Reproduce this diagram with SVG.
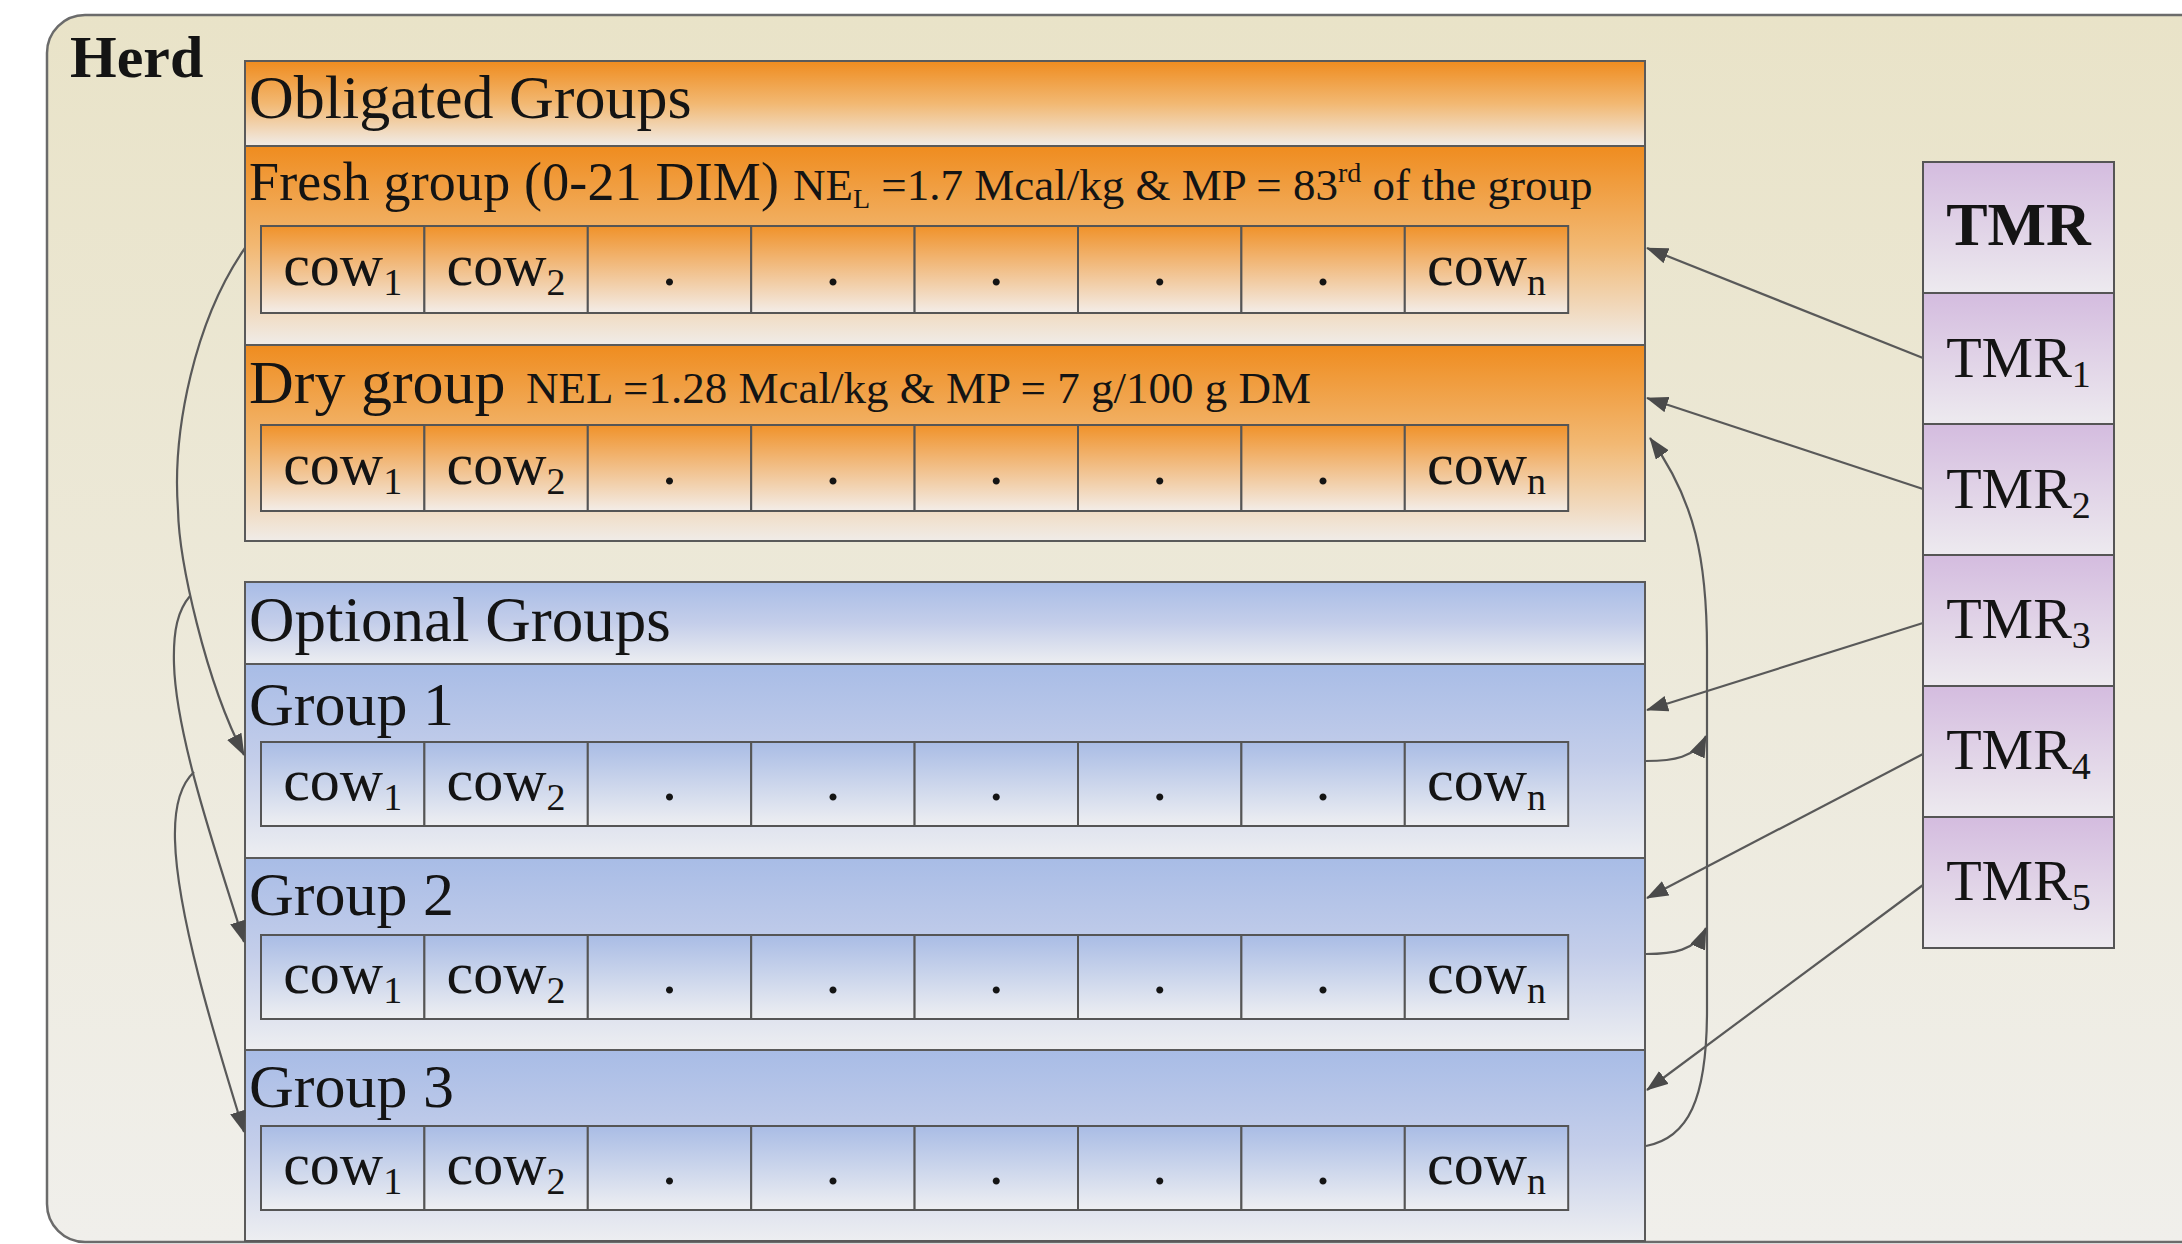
<svg xmlns="http://www.w3.org/2000/svg" width="2182" height="1244" viewBox="0 0 2182 1244">
  <defs>
    <linearGradient id="gHerd" x1="0" y1="0" x2="0" y2="1">
      <stop offset="0" stop-color="#E9E3C8"/>
      <stop offset="1" stop-color="#F0EFEB"/>
    </linearGradient>
    <linearGradient id="gOrange" x1="0" y1="0" x2="0" y2="1">
      <stop offset="0" stop-color="#EF8C1F"/>
      <stop offset="0.5" stop-color="#F2B872"/>
      <stop offset="1" stop-color="#F0ECE8"/>
    </linearGradient>
    <linearGradient id="gOrangeCell" x1="0" y1="0" x2="0" y2="1">
      <stop offset="0" stop-color="#F0922A"/>
      <stop offset="1" stop-color="#F3EDE8"/>
    </linearGradient>
    <linearGradient id="gBlue" x1="0" y1="0" x2="0" y2="1">
      <stop offset="0" stop-color="#A8BCE6"/>
      <stop offset="0.5" stop-color="#C4CEEA"/>
      <stop offset="1" stop-color="#EDEEF1"/>
    </linearGradient>
    <linearGradient id="gBlueCell" x1="0" y1="0" x2="0" y2="1">
      <stop offset="0" stop-color="#A9BCE5"/>
      <stop offset="1" stop-color="#EEEFF2"/>
    </linearGradient>
    <linearGradient id="gPurple" x1="0" y1="0" x2="0" y2="1">
      <stop offset="0" stop-color="#D4BCDF"/>
      <stop offset="1" stop-color="#EDEAEF"/>
    </linearGradient>
    <marker id="arrow" viewBox="0 0 22 16" refX="21" refY="8" markerWidth="22" markerHeight="16" markerUnits="userSpaceOnUse" orient="auto">
      <path d="M0,0 L22,8 L0,16 z" fill="#4A4A4A"/>
    </marker>
  </defs>
  <style>
    .box{stroke:#5A5A5A;stroke-width:2}
    .org{fill:url(#gOrange)}
    .blu{fill:url(#gBlue)}
    .oc{fill:url(#gOrangeCell);stroke:#555;stroke-width:2}
    .bc{fill:url(#gBlueCell);stroke:#555;stroke-width:2}
    .tmr{fill:url(#gPurple);stroke:#555;stroke-width:2}
    .t{font-family:"Liberation Serif","Times New Roman",serif;fill:#141414}
    .lab{font-size:62px}
    .small{font-size:45px}
    .cow{font-size:60px;text-anchor:middle}
    .tm{font-size:58px;text-anchor:middle}
    .sub{font-size:38px}
    .sub2{font-size:28px}
    .conn{fill:none;stroke:#595959;stroke-width:2.2;marker-end:url(#arrow)}
  </style>

  <rect width="2182" height="1244" fill="#FFFFFF"/>

  <!-- outer herd container -->
  <g id="herd">
    <rect x="47" y="15" width="2200" height="1227" rx="38" fill="url(#gHerd)" stroke="#6B6B6B" stroke-width="2.5"/>
    <text class="t" x="70" y="77" font-size="60" font-weight="bold">Herd</text>
  </g>

  <!-- obligated groups -->
  <g id="obligated-groups">
    <rect class="box" x="245" y="61" width="1400" height="480" fill="none"/>
    <rect class="box org" x="245" y="61" width="1400" height="85"/>
    <text class="t lab" x="249" y="118" font-size="63">Obligated Groups</text>
  </g>

  <g id="fresh-group">
    <rect class="box org" x="245" y="146" width="1400" height="199"/>
    <text class="t" y="200"><tspan x="249" font-size="54" textLength="530">Fresh group (0-21 DIM)</tspan><tspan x="793" class="small">NE<tspan class="sub2" dy="8">L</tspan><tspan dy="-8"> =1.7 Mcal/kg &amp; MP = 83</tspan><tspan class="sub2" dy="-18">rd</tspan><tspan dy="18"> of the group</tspan></tspan></text>
    <g id="fresh-cows">
      <rect class="oc" x="261" y="226" width="163.4" height="87"/>
      <rect class="oc" x="424.4" y="226" width="163.4" height="87"/>
      <rect class="oc" x="587.8" y="226" width="163.4" height="87"/>
      <rect class="oc" x="751.2" y="226" width="163.4" height="87"/>
      <rect class="oc" x="914.6" y="226" width="163.4" height="87"/>
      <rect class="oc" x="1078" y="226" width="163.4" height="87"/>
      <rect class="oc" x="1241.4" y="226" width="163.4" height="87"/>
      <rect class="oc" x="1404.8" y="226" width="163.4" height="87"/>
      <text class="t cow" x="342.7" y="285">cow<tspan class="sub" dy="10">1</tspan></text>
      <text class="t cow" x="506.1" y="285">cow<tspan class="sub" dy="10">2</tspan></text>
      <text class="t cow" x="669.5" y="285">.</text>
      <text class="t cow" x="832.9" y="285">.</text>
      <text class="t cow" x="996.3" y="285">.</text>
      <text class="t cow" x="1159.7" y="285">.</text>
      <text class="t cow" x="1323.1" y="285">.</text>
      <text class="t cow" x="1486.5" y="285">cow<tspan class="sub" dy="10">n</tspan></text>
    </g>
  </g>

  <g id="dry-group">
    <rect class="box org" x="245" y="345" width="1400" height="196"/>
    <text class="t" y="403"><tspan x="249" font-size="62">Dry group</tspan><tspan x="526" class="small">NEL =1.28 Mcal/kg &amp; MP = 7 g/100 g DM</tspan></text>
    <g id="dry-cows">
      <rect class="oc" x="261" y="425" width="163.4" height="86"/>
      <rect class="oc" x="424.4" y="425" width="163.4" height="86"/>
      <rect class="oc" x="587.8" y="425" width="163.4" height="86"/>
      <rect class="oc" x="751.2" y="425" width="163.4" height="86"/>
      <rect class="oc" x="914.6" y="425" width="163.4" height="86"/>
      <rect class="oc" x="1078" y="425" width="163.4" height="86"/>
      <rect class="oc" x="1241.4" y="425" width="163.4" height="86"/>
      <rect class="oc" x="1404.8" y="425" width="163.4" height="86"/>
      <text class="t cow" x="342.7" y="484">cow<tspan class="sub" dy="10">1</tspan></text>
      <text class="t cow" x="506.1" y="484">cow<tspan class="sub" dy="10">2</tspan></text>
      <text class="t cow" x="669.5" y="484">.</text>
      <text class="t cow" x="832.9" y="484">.</text>
      <text class="t cow" x="996.3" y="484">.</text>
      <text class="t cow" x="1159.7" y="484">.</text>
      <text class="t cow" x="1323.1" y="484">.</text>
      <text class="t cow" x="1486.5" y="484">cow<tspan class="sub" dy="10">n</tspan></text>
    </g>
  </g>

  <!-- optional groups -->
  <g id="optional-groups">
    <rect class="box" x="245" y="582" width="1400" height="659" fill="none"/>
    <rect class="box blu" x="245" y="582" width="1400" height="82"/>
    <text class="t" x="249" y="641" font-size="63">Optional Groups</text>
  </g>

  <g id="group-1">
    <rect class="box blu" x="245" y="664" width="1400" height="194"/>
    <text class="t lab" x="249" y="725">Group 1</text>
    <g id="group-1-cows">
      <rect class="bc" x="261" y="742" width="163.4" height="84"/>
      <rect class="bc" x="424.4" y="742" width="163.4" height="84"/>
      <rect class="bc" x="587.8" y="742" width="163.4" height="84"/>
      <rect class="bc" x="751.2" y="742" width="163.4" height="84"/>
      <rect class="bc" x="914.6" y="742" width="163.4" height="84"/>
      <rect class="bc" x="1078" y="742" width="163.4" height="84"/>
      <rect class="bc" x="1241.4" y="742" width="163.4" height="84"/>
      <rect class="bc" x="1404.8" y="742" width="163.4" height="84"/>
      <text class="t cow" x="342.7" y="800">cow<tspan class="sub" dy="10">1</tspan></text>
      <text class="t cow" x="506.1" y="800">cow<tspan class="sub" dy="10">2</tspan></text>
      <text class="t cow" x="669.5" y="800">.</text>
      <text class="t cow" x="832.9" y="800">.</text>
      <text class="t cow" x="996.3" y="800">.</text>
      <text class="t cow" x="1159.7" y="800">.</text>
      <text class="t cow" x="1323.1" y="800">.</text>
      <text class="t cow" x="1486.5" y="800">cow<tspan class="sub" dy="10">n</tspan></text>
    </g>
  </g>

  <g id="group-2">
    <rect class="box blu" x="245" y="858" width="1400" height="192"/>
    <text class="t lab" x="249" y="915">Group 2</text>
    <g id="group-2-cows">
      <rect class="bc" x="261" y="935" width="163.4" height="84"/>
      <rect class="bc" x="424.4" y="935" width="163.4" height="84"/>
      <rect class="bc" x="587.8" y="935" width="163.4" height="84"/>
      <rect class="bc" x="751.2" y="935" width="163.4" height="84"/>
      <rect class="bc" x="914.6" y="935" width="163.4" height="84"/>
      <rect class="bc" x="1078" y="935" width="163.4" height="84"/>
      <rect class="bc" x="1241.4" y="935" width="163.4" height="84"/>
      <rect class="bc" x="1404.8" y="935" width="163.4" height="84"/>
      <text class="t cow" x="342.7" y="993">cow<tspan class="sub" dy="10">1</tspan></text>
      <text class="t cow" x="506.1" y="993">cow<tspan class="sub" dy="10">2</tspan></text>
      <text class="t cow" x="669.5" y="993">.</text>
      <text class="t cow" x="832.9" y="993">.</text>
      <text class="t cow" x="996.3" y="993">.</text>
      <text class="t cow" x="1159.7" y="993">.</text>
      <text class="t cow" x="1323.1" y="993">.</text>
      <text class="t cow" x="1486.5" y="993">cow<tspan class="sub" dy="10">n</tspan></text>
    </g>
  </g>

  <g id="group-3">
    <rect class="box blu" x="245" y="1050" width="1400" height="191" stroke-width="3"/>
    <text class="t lab" x="249" y="1107">Group 3</text>
    <g id="group-3-cows">
      <rect class="bc" x="261" y="1126" width="163.4" height="84"/>
      <rect class="bc" x="424.4" y="1126" width="163.4" height="84"/>
      <rect class="bc" x="587.8" y="1126" width="163.4" height="84"/>
      <rect class="bc" x="751.2" y="1126" width="163.4" height="84"/>
      <rect class="bc" x="914.6" y="1126" width="163.4" height="84"/>
      <rect class="bc" x="1078" y="1126" width="163.4" height="84"/>
      <rect class="bc" x="1241.4" y="1126" width="163.4" height="84"/>
      <rect class="bc" x="1404.8" y="1126" width="163.4" height="84"/>
      <text class="t cow" x="342.7" y="1184">cow<tspan class="sub" dy="10">1</tspan></text>
      <text class="t cow" x="506.1" y="1184">cow<tspan class="sub" dy="10">2</tspan></text>
      <text class="t cow" x="669.5" y="1184">.</text>
      <text class="t cow" x="832.9" y="1184">.</text>
      <text class="t cow" x="996.3" y="1184">.</text>
      <text class="t cow" x="1159.7" y="1184">.</text>
      <text class="t cow" x="1323.1" y="1184">.</text>
      <text class="t cow" x="1486.5" y="1184">cow<tspan class="sub" dy="10">n</tspan></text>
    </g>
  </g>

  <!-- TMR column -->
  <g id="tmr">
    <rect class="tmr" x="1923" y="162" width="191" height="131"/>
    <text class="t" x="2018.5" y="245" font-size="62" font-weight="bold" text-anchor="middle">TMR</text>
  </g>
  <g id="tmr-1">
    <rect class="tmr" x="1923" y="293" width="191" height="131"/>
    <text class="t tm" x="2018.5" y="377">TMR<tspan class="sub" dy="10">1</tspan></text>
  </g>
  <g id="tmr-2">
    <rect class="tmr" x="1923" y="424" width="191" height="131"/>
    <text class="t tm" x="2018.5" y="508">TMR<tspan class="sub" dy="10">2</tspan></text>
  </g>
  <g id="tmr-3">
    <rect class="tmr" x="1923" y="555" width="191" height="131"/>
    <text class="t tm" x="2018.5" y="638">TMR<tspan class="sub" dy="10">3</tspan></text>
  </g>
  <g id="tmr-4">
    <rect class="tmr" x="1923" y="686" width="191" height="131"/>
    <text class="t tm" x="2018.5" y="769">TMR<tspan class="sub" dy="10">4</tspan></text>
  </g>
  <g id="tmr-5">
    <rect class="tmr" x="1923" y="817" width="191" height="131"/>
    <text class="t tm" x="2018.5" y="900">TMR<tspan class="sub" dy="10">5</tspan></text>
  </g>

  <!-- connectors -->
  <g id="connectors">
    <!-- rations to groups -->
    <path class="conn" d="M1923 358 L1647 248"/>
    <path class="conn" d="M1923 489 L1647 398"/>
    <path class="conn" d="M1923 623 L1647 710"/>
    <path class="conn" d="M1923 754 L1647 898"/>
    <path class="conn" d="M1923 885 L1647 1090"/>
    <!-- right-side return path from group 3 to dry group -->
    <path class="conn" d="M1646 1146 C1688 1138 1707 1100 1707 1010 L1707 650 C1707 560 1695 500 1650 438"/>
    <path class="conn" d="M1646 761 C1672 761 1696 758 1706 736"/>
    <path class="conn" d="M1646 954 C1672 954 1696 951 1706 928"/>
    <!-- left-side moves between groups -->
    <path class="conn" d="M245 248 C195 320 172 430 178 510 C179 560 205 680 244 755"/>
    <path class="conn" d="M190 596 C178 610 173 630 174 664 C176 740 222 870 244 942"/>
    <path class="conn" d="M194 772 C181 784 174 805 175 840 C177 920 222 1060 244 1132"/>
  </g>
</svg>
